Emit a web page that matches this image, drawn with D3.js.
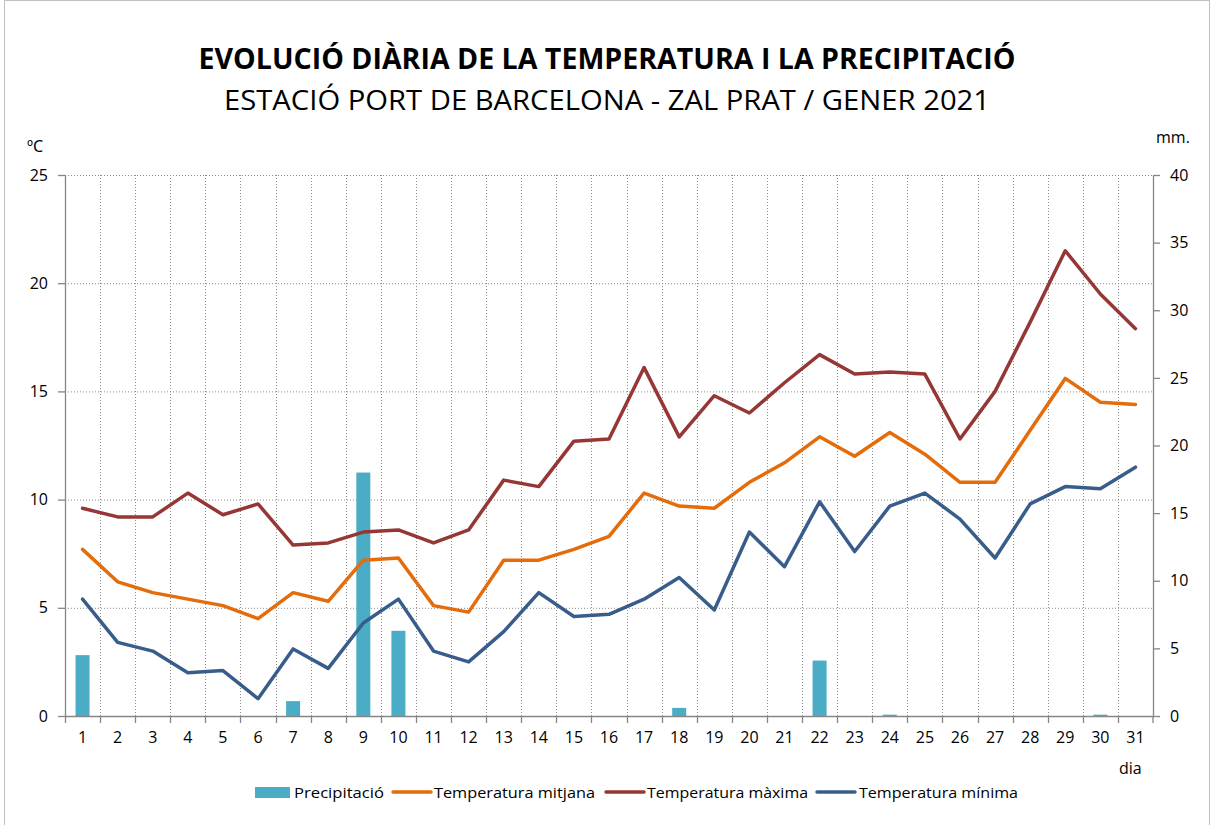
<!DOCTYPE html>
<html>
<head>
<meta charset="utf-8">
<script src="https://cdn.jsdelivr.net/npm/d3@7"></script>
<style>
  body { margin: 0; background: #fff; }
  svg { display: block; font-family: "Open Sans", "Noto Sans", sans-serif; }
</style>
</head>
<body>
<svg id="chart" width="1214" height="825"></svg>
<script>
// Daily data, January 2021
const days = d3.range(1, 32);
const tempMax = [9.6, 9.2, 9.2, 10.3, 9.3, 9.8, 7.9, 8.0, 8.5, 8.6, 8.0, 8.6, 10.9, 10.6, 12.7, 12.8,
                 16.1, 12.9, 14.8, 14.0, 15.4, 16.7, 15.8, 15.9, 15.8, 12.8, 15.0, 18.2, 21.5, 19.5, 17.9];
const tempMean = [7.7, 6.2, 5.7, 5.4, 5.1, 4.5, 5.7, 5.3, 7.2, 7.3, 5.1, 4.8, 7.2, 7.2, 7.7, 8.3,
                  10.3, 9.7, 9.6, 10.8, 11.7, 12.9, 12.0, 13.1, 12.1, 10.8, 10.8, 13.2, 15.6, 14.5, 14.4];
const tempMin = [5.4, 3.4, 3.0, 2.0, 2.1, 0.8, 3.1, 2.2, 4.3, 5.4, 3.0, 2.5, 3.9, 5.7, 4.6, 4.7,
                 5.4, 6.4, 4.9, 8.5, 6.9, 9.9, 7.6, 9.7, 10.3, 9.1, 7.3, 9.8, 10.6, 10.5, 11.5];
const precip = [4.5, 0, 0, 0, 0, 0, 1.1, 0, 18.0, 6.3, 0, 0, 0, 0, 0, 0,
                0, 0.6, 0, 0, 0, 4.1, 0, 0.1, 0, 0, 0, 0, 0, 0.1, 0];
const tempTicks = [0, 5, 10, 15, 20, 25];
const precipTicks = [0, 5, 10, 15, 20, 25, 30, 35, 40];

const colors = {
  precip: '#4bacc6',
  mean: '#e46c0a',
  max: '#953735',
  min: '#385d8a',
  axis: '#868686',
  grid: '#8c8c8c'
};

const svg = d3.select("#chart");
const plot = { left: 65, right: 1153, top: 175, bottom: 716 };

// outer frame
svg.append("rect")
  .attr("x", 4.5).attr("y", 0.5).attr("width", 1205).attr("height", 830)
  .attr("fill", "none").attr("stroke", "#bfbfbf");

const x = d3.scaleBand().domain(days).range([plot.left, plot.right]);
const yT = d3.scaleLinear().domain([0, 25]).range([plot.bottom, plot.top]);
const yP = d3.scaleLinear().domain([0, 40]).range([plot.bottom, plot.top]);

// gridlines
const grid = svg.append("g");
grid.selectAll(".hgrid")
  .data(tempTicks.filter(d => d > 0))
  .join("line")
  .attr("x1", plot.left).attr("x2", plot.right)
  .attr("y1", d => yT(d) + 0.5).attr("y2", d => yT(d) + 0.5)
  .attr("stroke", colors.grid).attr("stroke-dasharray", "1,2");
grid.selectAll(".vgrid")
  .data(days.slice(1))
  .join("line")
  .attr("x1", d => Math.round(x(d)) + 0.5).attr("x2", d => Math.round(x(d)) + 0.5)
  .attr("y1", plot.top).attr("y2", plot.bottom)
  .attr("stroke", colors.grid).attr("stroke-dasharray", "1,2");

// precipitation bars
const barW = 14;
svg.append("g").selectAll("rect")
  .data(days)
  .join("rect")
  .attr("x", d => x(d) + x.bandwidth() / 2 - barW / 2)
  .attr("width", barW)
  .attr("y", (d, i) => yP(precip[i]))
  .attr("height", (d, i) => plot.bottom - yP(precip[i]))
  .attr("fill", colors.precip);

// axes
const axisStyle = g => {
  g.select(".domain").attr("stroke", colors.axis).attr("stroke-width", 1.3);
  g.selectAll(".tick line").attr("stroke", colors.axis).attr("stroke-width", 1.3);
  g.selectAll(".tick text").attr("fill", "#000").style("font-size", "16px")
    .style("font-family", "'Open Sans', sans-serif");
};

svg.append("g")
  .attr("transform", `translate(${plot.left},0)`)
  .call(d3.axisLeft(yT).tickValues(tempTicks).tickSize(7).tickPadding(10).tickSizeOuter(0))
  .call(axisStyle);

svg.append("g")
  .attr("transform", `translate(${plot.right},0)`)
  .call(d3.axisRight(yP).tickValues(precipTicks).tickSize(7).tickPadding(10).tickSizeOuter(0))
  .call(axisStyle);

const xAxis = svg.append("g")
  .attr("transform", `translate(0,${plot.bottom})`)
  .call(d3.axisBottom(x).tickSize(0).tickPadding(16))
  .call(axisStyle);
xAxis.selectAll(".tickmark")
  .data(days.concat([32]))
  .join("line")
  .attr("x1", d => d === 32 ? plot.right : Math.round(x(d)) + 0.5)
  .attr("x2", d => d === 32 ? plot.right : Math.round(x(d)) + 0.5)
  .attr("y1", 0).attr("y2", 7)
  .attr("stroke", colors.axis).attr("stroke-width", 1.3);

// temperature lines
const series = [
  { name: "Temperatura màxima", values: tempMax, color: colors.max },
  { name: "Temperatura mitjana", values: tempMean, color: colors.mean },
  { name: "Temperatura mínima", values: tempMin, color: colors.min }
];
const line = d3.line()
  .x((d, i) => x(days[i]) + x.bandwidth() / 2)
  .y(d => yT(d));

svg.append("g").selectAll("path")
  .data(series)
  .join("path")
  .attr("d", s => line(s.values))
  .attr("fill", "none")
  .attr("stroke", s => s.color)
  .attr("stroke-width", 3.5)
  .attr("stroke-linejoin", "round")
  .attr("stroke-linecap", "round");

// titles
svg.append("text")
  .attr("x", 607).attr("y", 69)
  .attr("text-anchor", "middle")
  .attr("textLength", 817).attr("lengthAdjust", "spacingAndGlyphs")
  .style("font-size", "28px").style("font-weight", "bold")
  .text("EVOLUCIÓ DIÀRIA DE LA TEMPERATURA I LA PRECIPITACIÓ");
svg.append("text")
  .attr("x", 607).attr("y", 110)
  .attr("text-anchor", "middle")
  .attr("textLength", 766).attr("lengthAdjust", "spacingAndGlyphs")
  .style("font-size", "28px")
  .text("ESTACIÓ PORT DE BARCELONA - ZAL PRAT / GENER 2021");

svg.append("text").attr("x", 27).attr("y", 152)
  .style("font-size", "16px").style("font-family", "'Noto Sans', sans-serif").text("ºC");
svg.append("text").attr("x", 1156).attr("y", 143)
  .style("font-size", "16px").text("mm.");
svg.append("text").attr("x", 1119).attr("y", 774)
  .style("font-size", "16px").text("dia");

// legend
const legend = svg.append("g").style("font-size", "15px");
legend.append("rect")
  .attr("x", 255).attr("y", 787).attr("width", 35).attr("height", 11)
  .attr("fill", colors.precip);
legend.append("text").attr("x", 294).attr("y", 798)
  .attr("textLength", 90).attr("lengthAdjust", "spacingAndGlyphs")
  .text("Precipitació");
const legItems = [
  { s: series[1], x0: 393, tx: 434, tl: 161 },
  { s: series[0], x0: 606, tx: 647, tl: 161 },
  { s: series[2], x0: 817, tx: 859, tl: 159 }
];
legItems.forEach(it => {
  legend.append("line")
    .attr("x1", it.x0).attr("x2", it.x0 + 38)
    .attr("y1", 792).attr("y2", 792)
    .attr("stroke", it.s.color).attr("stroke-width", 3.5)
    .attr("stroke-linecap", "round");
  legend.append("text").attr("x", it.tx).attr("y", 798)
    .attr("textLength", it.tl).attr("lengthAdjust", "spacingAndGlyphs")
    .text(it.s.name);
});
</script>
</body>
</html>
